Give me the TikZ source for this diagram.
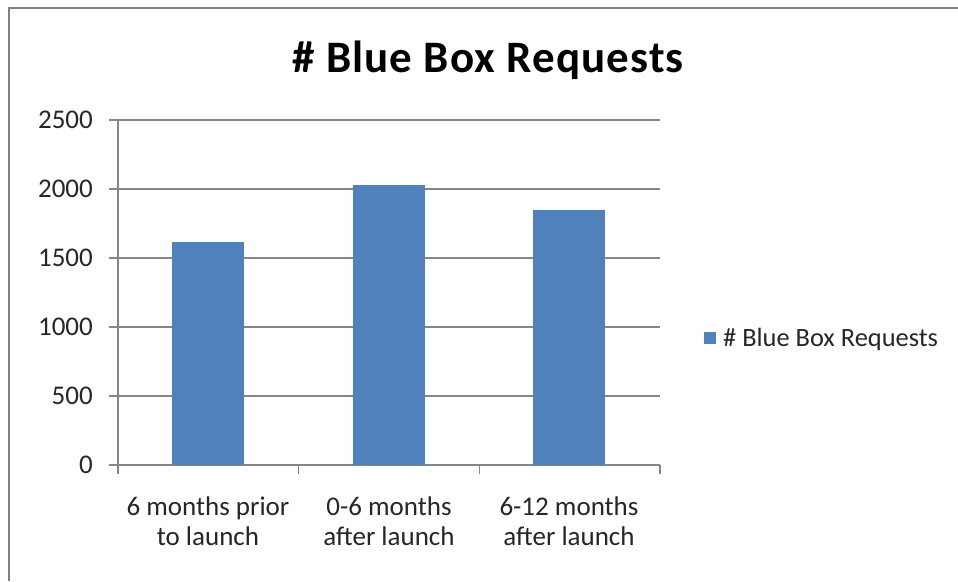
\documentclass[tikz,border=0pt]{standalone}
\usepackage{fontspec}
\setmainfont{Carlito}
\newfontfamily\titlefont[LetterSpace=2.5]{Carlito}
\usetikzlibrary{positioning}
\definecolor{barblue}{RGB}{79,129,189}
\definecolor{gridgray}{RGB}{134,134,134}
\definecolor{framegray}{RGB}{128,128,128}

\begin{document}
\begin{tikzpicture}[
    x=1pt, y=-1pt,
    ticklabel/.style={anchor=east, inner sep=0pt, text=black!85, font=\fontsize{27}{30}\selectfont},
    catlabel/.style={anchor=base, align=center, inner sep=0pt, text=black!85, font=\fontsize{27}{30}\selectfont},
    bar/.style={fill=barblue, draw=none},
    gridline/.style={gridgray, line width=1.5pt}
]
    \useasboundingbox (0,0) rectangle (958,581);
    \draw[framegray, line width=2.5pt] (9,581) -- (9,8) -- (958,8);

    \node[anchor=base, inner sep=0pt, font=\titlefont\bfseries\fontsize{45}{48}\selectfont]
        (title) at (488,72) {\# Blue Box Requests};

    % gridlines and value labels, 69 units per 500
    \foreach \v in {0,...,5} {
        \draw[gridline] (109,465-69*\v) -- (660,465-69*\v);
        \node[ticklabel] (t\v) at (93,465-69*\v) {\the\numexpr500*\v\relax};
    }
    \draw[gridline] (118,120) -- (118,465);
    \foreach \i in {0,...,3}
        \draw[gridline] (118+180.67*\i,465) -- (118+180.67*\i,474);

    % bars
    \foreach \c/\val [count=\n] in {208/1615, 389/2030, 569/1850}
        \fill[bar] (\c-36,465) rectangle (\c+36,465-0.138*\val) coordinate (b\n);

    % base anchor sits on the second line
    \node[catlabel] (c1) at (208,545) {6 months prior\\to launch};
    \node[catlabel] (c2) at (389,545) {0-6 months\\after launch};
    \node[catlabel] (c3) at (569,545) {6-12 months\\after launch};

    % legend
    \fill[bar] (704,332) rectangle (716,344) coordinate (key);
    \node[anchor=base west, inner sep=0pt, text=black!85, font=\fontsize{26.4}{30}\selectfont]
        (legend) at (723,346) {\# Blue Box Requests};
\end{tikzpicture}
\end{document}
